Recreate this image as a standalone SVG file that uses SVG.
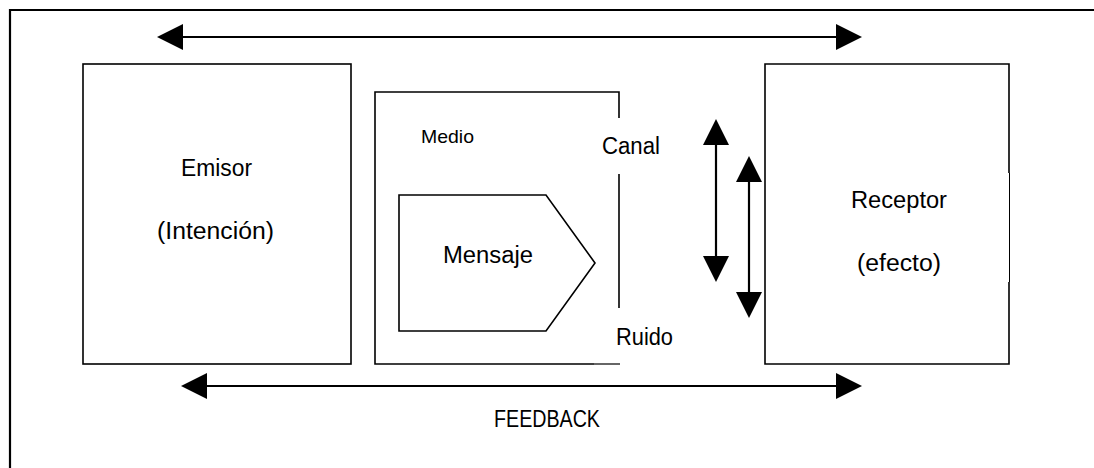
<svg xmlns="http://www.w3.org/2000/svg" width="1094" height="468" viewBox="0 0 1094 468">
<style>
.box{fill:none;stroke:#000;stroke-width:1.6}
.ln{fill:none;stroke:#000;stroke-width:1.6}
.arr{fill:none;stroke:#000;stroke-width:2.2}
.t{font-family:"Liberation Sans",Arial,sans-serif;font-size:23px;fill:#000;text-anchor:middle}
.s{font-size:19px}
</style>
<defs>
<marker id="ah" viewBox="0 0 26 26" refX="0" refY="13" markerWidth="26" markerHeight="26" markerUnits="userSpaceOnUse" orient="auto-start-reverse">
<path d="M0,0 L26,13 L0,26 Z" fill="#000"/>
</marker>
</defs>
<rect width="1094" height="468" fill="#fff"/>
<g id="frame">
<path d="M10,470 L10,10 L1096,10" fill="none" stroke="#000" stroke-width="2.2"/>
</g>
<g id="emisor">
<rect class="box" x="83" y="64" width="268" height="300"/>
<text class="t" x="216.5" y="176" textLength="71" lengthAdjust="spacingAndGlyphs">Emisor</text>
<text class="t" x="215.5" y="239" textLength="117" lengthAdjust="spacingAndGlyphs">(Intención)</text>
</g>
<g id="medio">
<path class="ln" d="M619,118 L619,92 L375,92 L375,364 L594,364"/>
<path d="M594,364 L620,364" stroke="#000" stroke-width="1.2"/>
<path class="ln" d="M619,174 L619,308"/>
<text class="t s" x="447.5" y="143" textLength="53" lengthAdjust="spacingAndGlyphs">Medio</text>
<text class="t" x="631" y="154" textLength="58" lengthAdjust="spacingAndGlyphs">Canal</text>
<text class="t" x="644.5" y="345" textLength="57" lengthAdjust="spacingAndGlyphs">Ruido</text>
</g>
<g id="mensaje">
<polygon class="box" points="399,195 546,195 595,263 546,331 399,331"/>
<text class="t" x="488" y="263" textLength="90" lengthAdjust="spacingAndGlyphs">Mensaje</text>
</g>
<g id="receptor">
<path class="ln" d="M1009,173 L1009,64 L765,64 L765,364 L1009,364 L1009,282"/>
<path d="M1009.5,173 L1009.5,282" stroke="#000" stroke-width="1"/>
<text class="t" x="899" y="208" textLength="96" lengthAdjust="spacingAndGlyphs">Receptor</text>
<text class="t" x="899" y="271" textLength="84" lengthAdjust="spacingAndGlyphs">(efecto)</text>
</g>
<g id="connectors">
<line class="arr" x1="183" y1="37" x2="836" y2="37" marker-start="url(#ah)" marker-end="url(#ah)"/>
<line class="arr" x1="207" y1="386" x2="836" y2="386" marker-start="url(#ah)" marker-end="url(#ah)"/>
<line class="arr" x1="716" y1="145" x2="716" y2="256" marker-start="url(#ah)" marker-end="url(#ah)"/>
<line class="arr" x1="749" y1="182" x2="749" y2="292" marker-start="url(#ah)" marker-end="url(#ah)"/>
</g>
<g id="feedback-label">
<text class="t" x="547" y="427" textLength="106" lengthAdjust="spacingAndGlyphs">FEEDBACK</text>
</g>
</svg>
